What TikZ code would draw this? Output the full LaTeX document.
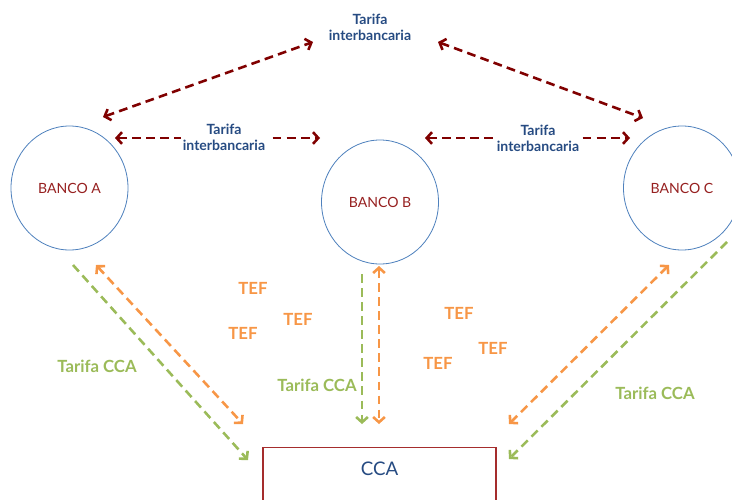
\documentclass[tikz,border=0pt]{standalone}
\usepackage{fontspec}
\setmainfont{Lato}
\usetikzlibrary{shapes.geometric,positioning,arrows.meta}
\definecolor{interred}{RGB}{128,0,0}
\definecolor{circblue}{RGB}{79,129,189}
\definecolor{bankred}{RGB}{150,32,32}
\definecolor{tarblue}{RGB}{38,75,130}
\definecolor{ccagreen}{RGB}{155,187,89}
\definecolor{teforange}{RGB}{247,150,70}
\definecolor{boxred}{RGB}{165,45,45}

\begin{document}
\begin{tikzpicture}[x=0.03cm,y=-0.03cm,
  >={Straight Barb[length=4.5pt,width=10pt]},
  banco/.style={ellipse,draw=circblue,line width=0.7pt,minimum width=3.51cm,minimum height=3.72cm,
    text=bankred,font=\fontsize{12}{14}\selectfont},
  tarifa/.style={text=tarblue,font=\bfseries\fontsize{12}{13.5}\selectfont,align=center,inner sep=2pt},
  tarifacca/.style={text=ccagreen,font=\bfseries\fontsize{14.3}{16}\selectfont},
  tef/.style={text=teforange,font=\bfseries\fontsize{14.3}{16}\selectfont},
  dashline/.style={line width=2.2pt,dash pattern=on 7.5pt off 4.5pt},
  inter/.style={dashline,draw=interred,<->},
  greenline/.style={dashline,draw=ccagreen,->},
  orangeline/.style={dashline,draw=teforange,<->}]
  \useasboundingbox (0,0) rectangle (732,499);

  \node [banco] (bancoA) at (69.5,188) {BANCO A};
  \node [banco] (bancoB) at (380,202) {BANCO B};
  \node [banco] (bancoC) at (682,188) {BANCO C};
  \node [draw=boxred,line width=0.9pt,minimum width=6.99cm,minimum height=2.4cm,anchor=north,
    label={[text=tarblue,font=\fontsize{16}{18}\selectfont,below=0.33cm]north:CCA}] (cca) at (379.5,447) {};

  \foreach \n/\x/\y in {ti1/103/117,ti2/313/42,ti3/438/42,ti4/643/118,
    ml1/115/138,ml2/320/138,mr1/425/138,mr2/630/138,
    ag1/73/265,ag2/248/460,ao1/96/265,ao2/243/424,
    bg1/362/274,bg2/362/424,bo1/379/266,bo2/379/424,
    co1/669/265,co2/509/424,cg1/727/242,cg2/509/459}
  \coordinate (\n) at (\x,\y);

  \draw [inter] (ti1) -- (ti2);
  \draw [inter] (ti3) -- (ti4);
  \draw [inter] (ml1) -- (ml2);
  \draw [inter] (mr1) -- (mr2);
  \draw [greenline] (ag1) -- (ag2);
  \draw [orangeline] (ao1) -- (ao2);
  \draw [greenline] (bg1) -- (bg2);
  \draw [orangeline] (bo1) -- (bo2);
  \draw [orangeline] (co1) -- (co2);
  \draw [greenline] (cg1) -- (cg2);

  \node [tarifa] (tarifaTop) at (370,27) {Tarifa\\interbancaria};
  \node [tarifa,fill=white] (tarifaAB) at (224,137) {Tarifa\\interbancaria};
  \node [tarifa,fill=white] (tarifaBC) at (538,138) {Tarifa\\interbancaria};

  \node [tarifacca] (ccaA) at (97,366) {Tarifa CCA};
  \node [tarifacca] (ccaB) at (317,385) {Tarifa CCA};
  \node [tarifacca] (ccaC) at (655,393) {Tarifa CCA};

  \foreach \x/\y in {253/288,298/319,243/333,459/313,493/348,438/363}
  \node [tef] at (\x,\y) {TEF};
\end{tikzpicture}
\end{document}
